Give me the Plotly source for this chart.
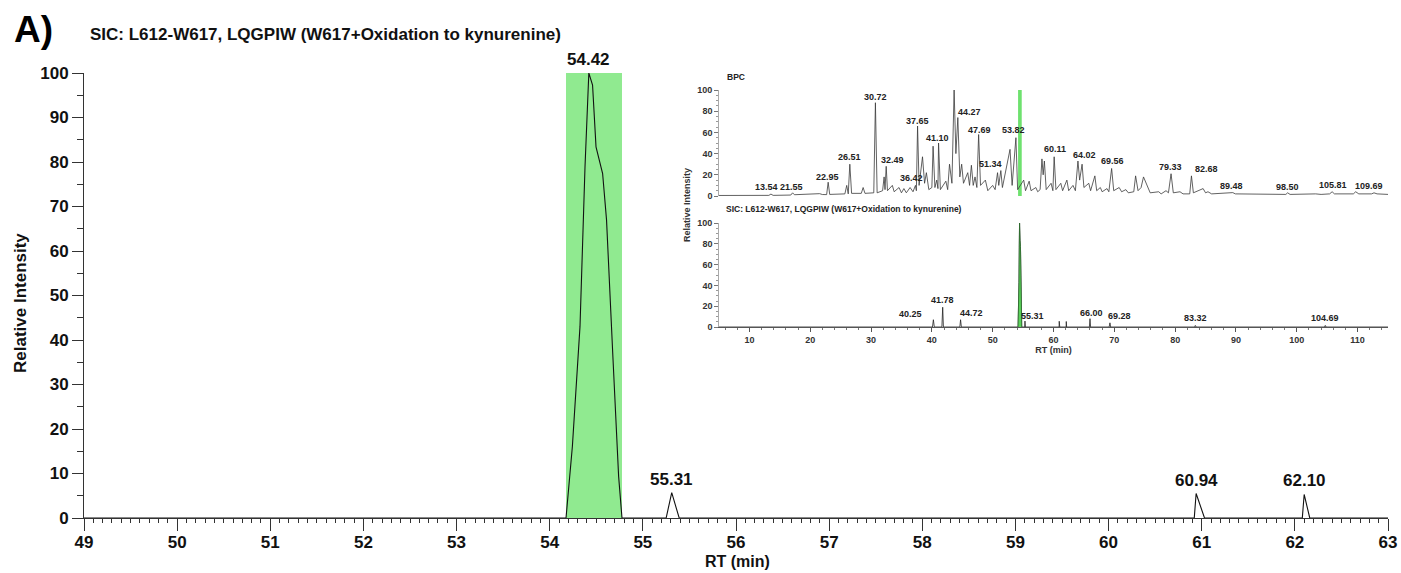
import plotly.graph_objects as go
import numpy as np

# ---------------- data ----------------
# Main SIC trace (zoomed window 49-63 min)
main_rt = [49.0, 54.175, 54.243, 54.325, 54.379, 54.42, 54.46, 54.497, 54.568, 54.61, 54.68, 54.74, 54.776,
           55.25, 55.31, 55.39, 60.92, 60.94, 61.03, 62.08, 62.10, 62.16, 63.0]
main_int = [0, 0, 16, 43, 79, 100, 97.3, 83.4, 77.4, 67, 35.5, 9.3, 0,
            0, 5.7, 0, 0, 5.5, 0, 0, 5.3, 0, 0]
main_labels = ["54.42", "55.31", "60.94", "62.10"]
peak_window = [54.175, 54.776]

# Inset BPC trace
bpc_rt = [5.0, 13.2, 13.54, 13.9, 16.8, 17.1, 17.4, 21.0, 21.55, 22.0, 22.7, 22.95, 23.2, 25.7, 26.0, 26.25,
          26.51, 26.8, 28.4, 28.7, 29.0, 30.45, 30.72, 31.0, 31.9, 32.15, 32.3, 32.49, 32.7, 33.5, 33.8,
          34.6, 35.0, 35.4, 35.8, 36.42, 36.9, 37.3, 37.45, 37.65, 37.9, 38.46, 38.8, 39.1, 39.5, 40.0,
          40.2, 40.5, 40.8, 41.0, 41.10, 41.4, 42.3, 42.6, 42.9, 43.3, 43.66, 43.95, 44.27, 44.6, 44.9,
          45.2, 45.9, 46.2, 46.5, 46.8, 47.1, 47.4, 47.69, 48.0, 48.8, 49.2, 50.0, 50.4, 50.8, 51.0,
          51.34, 51.6, 52.85, 53.2, 53.82, 54.1, 55.1, 55.4, 56.0, 56.3, 57.1, 57.4, 57.8, 58.1, 58.3,
          58.5, 58.8, 59.6, 59.9, 60.11, 60.4, 61.2, 61.5, 62.2, 62.5, 63.2, 63.6, 64.02, 64.3, 64.7,
          65.0, 65.8, 66.1, 66.8, 67.1, 67.7, 68.0, 68.8, 69.1, 69.56, 69.9, 70.8, 71.2, 71.9, 72.3,
          73.2, 73.5, 73.9, 74.4, 74.8, 75.4, 75.9, 77.3, 77.7, 78.5, 78.9, 79.33, 79.7, 80.8, 81.3,
          82.4, 82.68, 83.0, 84.6, 85.0, 85.4, 86.0, 89.0, 89.2, 89.48, 89.9, 93.8, 94.5, 98.2, 98.50,
          98.9, 103.1, 104.0, 105.4, 105.81, 106.2, 108.2, 109.3, 109.69, 110.2, 112.3, 112.7, 113.2, 115.0]
bpc_int = [0.5, 0.6, 1.8, 0.6, 0.9, 3.0, 1.2, 1.5, 2.2, 1.4, 1.3, 13, 1.5, 2, 10, 2,
           30, 2.5, 2.5, 8, 2.5, 3, 88, 3, 5, 18, 6, 28, 5, 10, 4,
           8, 3, 7, 3, 8, 4, 10, 5, 66, 10, 37, 12, 22, 6, 8,
           47, 8, 15, 7, 50, 6, 14, 6, 30, 12, 100, 40, 74, 18, 30,
           12, 22, 10, 29, 10, 18, 8, 58, 10, 15, 5, 10, 6, 22, 10,
           24, 8, 44, 10, 55, 6, 15, 5, 14, 5, 8, 4, 6, 35, 20,
           33, 6, 12, 5, 37, 6, 12, 5, 15, 5, 10, 5, 33, 15, 30,
           8, 12, 5, 19, 5, 8, 4, 7, 4, 26, 5, 8, 4, 6, 3,
           4, 19, 5, 8, 18, 10, 3, 4, 2, 5, 3, 21, 3, 4, 2,
           2, 19, 3, 7, 3, 4, 2, 2.5, 3, 3.2, 2, 2, 1.5, 1.5, 3,
           1.5, 2, 1.5, 2, 4, 2, 2, 2, 4, 2, 2, 3, 2, 1.5]
bpc_labels = ["13.54", "21.55", "22.95", "26.51", "30.72", "32.49", "36.42", "37.65", "41.10", "43.66",
              "44.27", "47.69", "51.34", "53.82", "60.11", "64.02", "69.56", "79.33", "82.68", "89.48",
              "98.50", "105.81", "109.69"]
bpc_label_x = [12.8, 17.0, 22.9, 26.5, 30.7, 33.5, 36.6, 37.6, 40.9, 43.7,
               46.2, 47.9, 49.7, 53.5, 60.3, 65.1, 69.7, 79.3, 85.1, 89.3,
               98.5, 105.9, 111.8]
bpc_label_y = [8.2, 8.2, 17.7, 36.4, 93.4, 34.2, 17.4, 70.6, 54.7, 106,
               79, 62.7, 30, 62.7, 44.6, 39, 32.6, 27.2, 25.6, 9.5,
               8.9, 10.4, 9.5]

# Inset SIC trace (full run)
sic_rt = [5.0, 40.1, 40.25, 40.4, 41.65, 41.78, 41.9, 44.6, 44.72, 44.85,
          54.175, 54.243, 54.325, 54.379, 54.42, 54.46, 54.497, 54.568, 54.61, 54.68, 54.74, 54.776,
          55.25, 55.31, 55.39, 60.92, 60.94, 61.03, 62.08, 62.10, 62.16, 65.9, 66.0, 66.1,
          69.15, 69.28, 69.4, 83.2, 83.32, 83.45, 104.55, 104.69, 104.8, 115.0]
sic_int = [0, 0, 7, 0, 0, 19, 0, 0, 7, 0,
           0, 16, 43, 79, 100, 97.3, 83.4, 77.4, 67, 35.5, 9.3, 0,
           0, 5.7, 0, 0, 5.5, 0, 0, 5.3, 0, 0, 8, 0,
           0, 4, 0, 0, 1.5, 0, 0, 1.5, 0, 0]
sic_labels = ["54.42", "40.25", "41.78", "44.72", "55.31", "66.00", "69.28", "83.32", "104.69"]
sic_label_x = [54.3, 36.5, 41.8, 46.5, 56.6, 66.2, 70.9, 83.4, 104.7]
sic_label_y = [105.7, 12.7, 26.3, 13, 11, 13.7, 10.5, 8.3, 8.3]

main_x_ticks = list(range(49, 64))
main_y_ticks = list(range(0, 101, 10))

# ---------------- layout helpers ----------------
W, H = 1401, 573
PX0, PX1, PY0, PY1 = 84, 1388, 73, 518   # plot area in pixels


def fx(px):
    return (px - PX0) / (PX1 - PX0)


def fy(py):
    return (PY1 - py) / (PY1 - PY0)


FONT = "Liberation Sans, Arial, Helvetica, sans-serif"
AX = "#333333"
GREEN = "rgb(144,234,144)"

fig = go.Figure()

# main highlight window
fig.add_shape(type="rect", xref="x", yref="y", x0=peak_window[0], x1=peak_window[1], y0=0, y1=100,
              fillcolor=GREEN, line=dict(width=0), layer="below")
# BPC highlight
fig.add_shape(type="rect", xref="x2", yref="y2", x0=peak_window[0], x1=peak_window[1], y0=0, y1=100,
              fillcolor="rgb(110,225,110)", line=dict(width=0), layer="below")

fig.add_trace(go.Scatter(x=main_rt, y=main_int, mode="lines", line=dict(color="#111", width=1.1),
                         xaxis="x", yaxis="y", showlegend=False, hoverinfo="skip"))
fig.add_trace(go.Scatter(x=bpc_rt, y=bpc_int, mode="lines", line=dict(color="#3a3a3a", width=0.8),
                         xaxis="x2", yaxis="y2", showlegend=False, hoverinfo="skip"))
fig.add_trace(go.Scatter(x=sic_rt, y=sic_int, mode="lines", line=dict(color="#222", width=0.8),
                         xaxis="x3", yaxis="y3", showlegend=False, hoverinfo="skip"))
win_x = [r for r in sic_rt if peak_window[0] <= r <= peak_window[1]]
win_y = [v for r, v in zip(sic_rt, sic_int) if peak_window[0] <= r <= peak_window[1]]
fig.add_trace(go.Scatter(x=win_x, y=win_y, mode="lines", fill="tozeroy", fillcolor="rgb(90,210,90)",
                         line=dict(color="#2d6b2d", width=0.8),
                         xaxis="x3", yaxis="y3", showlegend=False, hoverinfo="skip"))

tickfont_main = dict(family=FONT, size=17, color="#111", weight="bold")
inset_font = dict(family=FONT, size=9, color="#333", weight="bold")

fig.update_layout(
    width=W, height=H,
    margin=dict(l=PX0, r=W - PX1, t=PY0, b=H - PY1, autoexpand=False),
    paper_bgcolor="white", plot_bgcolor="white",
    xaxis=dict(domain=[0, 1], range=[49, 63], tickmode="array", tickvals=main_x_ticks,
               ticks="outside", ticklen=12, tickwidth=1, tickcolor=AX,
               showline=True, linecolor=AX, linewidth=1, showgrid=False, zeroline=False,
               tickfont=tickfont_main, anchor="y", ticklabelstandoff=-3,
               minor=dict(dtick=0.1, tick0=49, ticks="outside", ticklen=4, tickcolor=AX, showgrid=False)),
    xaxis4=dict(overlaying="x", anchor="y", range=[49, 63], tickmode="array",
                tickvals=list(np.arange(49.5, 63, 1.0)), ticks="outside", ticklen=7, tickcolor=AX,
                showticklabels=False, showline=False, showgrid=False, zeroline=False),
    yaxis=dict(domain=[0, 1], range=[0, 100], tickmode="array", tickvals=main_y_ticks,
               ticks="outside", ticklen=11, tickwidth=1, tickcolor=AX,
               showline=True, linecolor=AX, linewidth=1, showgrid=False, zeroline=False,
               tickfont=tickfont_main, anchor="x",
               minor=dict(dtick=5, tick0=0, ticks="outside", ticklen=6, tickcolor=AX, showgrid=False)),
    xaxis2=dict(domain=[fx(719), fx(1388)], range=[5, 115], anchor="y2", showline=False,
                showticklabels=False, ticks="", showgrid=False, zeroline=False),
    yaxis2=dict(domain=[fy(196), fy(90)], range=[0, 100], anchor="x2", dtick=20,
                ticks="outside", ticklen=4, tickcolor="#777", showline=True, linecolor="#aaa",
                linewidth=0.6, showgrid=False, zeroline=False, tickfont=inset_font,
                minor=dict(dtick=5, ticks="outside", ticklen=2, tickcolor="#999", showgrid=False)),
    xaxis3=dict(domain=[fx(719), fx(1388)], range=[5, 115], anchor="y3", dtick=10, tick0=0,
                ticks="outside", ticklen=4, tickcolor="#555", showline=True, linecolor="#555",
                linewidth=0.7, showgrid=False, zeroline=False, tickfont=inset_font,
                title=dict(text="RT (min)", font=inset_font, standoff=1),
                minor=dict(dtick=2, ticks="outside", ticklen=2, tickcolor="#777", showgrid=False)),
    yaxis3=dict(domain=[fy(327), fy(223)], range=[0, 100], anchor="x3", dtick=20,
                ticks="outside", ticklen=4, tickcolor="#777", showline=True, linecolor="#aaa",
                linewidth=0.6, showgrid=False, zeroline=False, tickfont=inset_font,
                minor=dict(dtick=5, ticks="outside", ticklen=2, tickcolor="#999", showgrid=False)),
)

ann = []
# main peak labels
height_at = dict(zip(main_rt, main_int))
for lab in main_labels:
    r = float(lab)
    ann.append(dict(x=r, y=height_at[r], xref="x", yref="y", text=lab, showarrow=False,
                    yanchor="bottom", yshift=2, font=dict(family=FONT, size=17, color="#111", weight="bold")))
# BPC labels
for lab, lx, ly in zip(bpc_labels, bpc_label_x, bpc_label_y):
    ann.append(dict(x=lx, y=ly, xref="x2", yref="y2", text=lab, showarrow=False, yanchor="middle",
                    font=dict(family=FONT, size=9, color="#222", weight="bold")))
for lab, lx, ly in zip(sic_labels, sic_label_x, sic_label_y):
    ann.append(dict(x=lx, y=ly, xref="x3", yref="y3", text=lab, showarrow=False, yanchor="middle",
                    font=dict(family=FONT, size=9, color="#222", weight="bold")))

# titles
ann.append(dict(x=fx(12), y=fy(30), xref="paper", yref="paper", text="A)", showarrow=False,
                xanchor="left", yanchor="middle", font=dict(family=FONT, size=37, color="#000", weight="bold")))
ann.append(dict(x=fx(88), y=fy(35), xref="paper", yref="paper",
                text="SIC: L612-W617, LQGPIW (W617+Oxidation to kynurenine)", showarrow=False,
                xanchor="left", yanchor="middle", font=dict(family=FONT, size=17, color="#111", weight="bold")))
ann.append(dict(x=fx(20), y=fy(303), xref="paper", yref="paper", text="Relative Intensity", showarrow=False,
                textangle=-90, xanchor="center", yanchor="middle",
                font=dict(family=FONT, size=17, color="#111", weight="bold")))
ann.append(dict(x=fx(737), y=fy(561), xref="paper", yref="paper", text="RT (min)", showarrow=False,
                xanchor="center", yanchor="middle", font=dict(family=FONT, size=16, color="#111", weight="bold")))
# inset titles
ann.append(dict(x=fx(725), y=fy(77), xref="paper", yref="paper", text="BPC", showarrow=False,
                xanchor="left", yanchor="middle", font=dict(family=FONT, size=8.5, color="#222", weight="bold")))
ann.append(dict(x=fx(724), y=fy(209), xref="paper", yref="paper",
                text="SIC: L612-W617, LQGPIW (W617+Oxidation to kynurenine)", showarrow=False,
                xanchor="left", yanchor="middle", font=dict(family=FONT, size=8.5, color="#222", weight="bold")))
ann.append(dict(x=fx(687), y=fy(205), xref="paper", yref="paper", text="Relative Intensity", showarrow=False,
                textangle=-90, xanchor="center", yanchor="middle",
                font=dict(family=FONT, size=9, color="#333", weight="bold")))

fig.update_layout(annotations=ann)
fig.write_html("out.html", config={"displayModeBar": False},
               post_script="document.body.style.margin='0px';document.body.style.overflow='hidden';")
